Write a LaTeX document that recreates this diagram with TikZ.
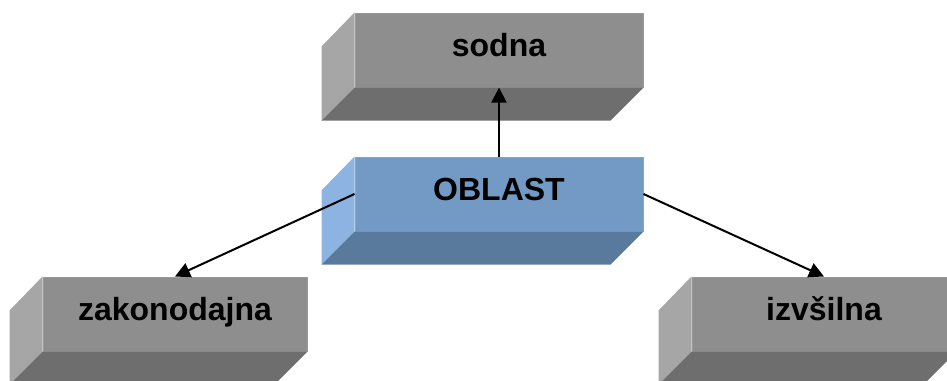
\documentclass[tikz,border=0pt]{standalone}
\usepackage{fontspec}
\setmainfont{Liberation Sans}
\usetikzlibrary{arrows.meta,calc}

\definecolor{grayfront}{HTML}{8E8E8E}
\definecolor{grayrim}{HTML}{999999}
\definecolor{grayside}{HTML}{A6A6A6}
\definecolor{graybottom}{HTML}{6E6E6E}
\definecolor{bluefront}{HTML}{7399C5}
\definecolor{bluerim}{HTML}{7FA5D1}
\definecolor{blueside}{HTML}{8CB3E2}
\definecolor{bluebottom}{HTML}{5A7A9D}

\tikzset{
  slab/.style={rectangle, inner sep=0pt, minimum height=74pt, line width=1pt,
    text height=22pt, text depth=10pt,
    font=\fontsize{32}{38}\selectfont\bfseries},
  wideslab/.style={slab, minimum width=288pt},
  narrowslab/.style={slab, minimum width=264pt},
  grayslab/.style={fill=grayfront, draw=grayrim},
  blueslab/.style={fill=bluefront, draw=bluerim},
  link/.style={line width=2pt, -{Triangle[width=15pt,length=15pt]}}
}

% side and bottom faces of an extruded slab, depth 33pt towards the lower left
\newcommand\slabfaces[3]{%
  \fill[#2] (#1.north west) -- (#1.south west) -- ++(-33,33) -- ++(0,-74) -- cycle;
  \fill[#3] (#1.south west) -- (#1.south east) -- ++(-33,33)
            -- ($(#1.south west)+(-33,33)$) -- cycle;
}

\begin{document}
\begin{tikzpicture}[x=1pt,y=-1pt]
  \useasboundingbox (0,0) rectangle (947,380);
  \clip (0,0) rectangle (947,380);

  \node[wideslab, grayslab] (sodna) at (499,50) {sodna};
  \slabfaces{sodna}{grayside}{graybottom}

  \node[wideslab, blueslab] (oblast) at (499,194) {OBLAST};
  \slabfaces{oblast}{blueside}{bluebottom}

  \node[narrowslab, grayslab] (zak) at (175,314) {zakonodajna};
  \slabfaces{zak}{grayside}{graybottom}

  \node[narrowslab, grayslab] (izv) at (824,314) {izvšilna};
  \slabfaces{izv}{grayside}{graybottom}

  \draw[link] (oblast.north) -- (sodna.south);
  \draw[link] (oblast.west) -- (zak.north);
  \draw[link] (oblast.east) -- (izv.north);
\end{tikzpicture}
\end{document}
